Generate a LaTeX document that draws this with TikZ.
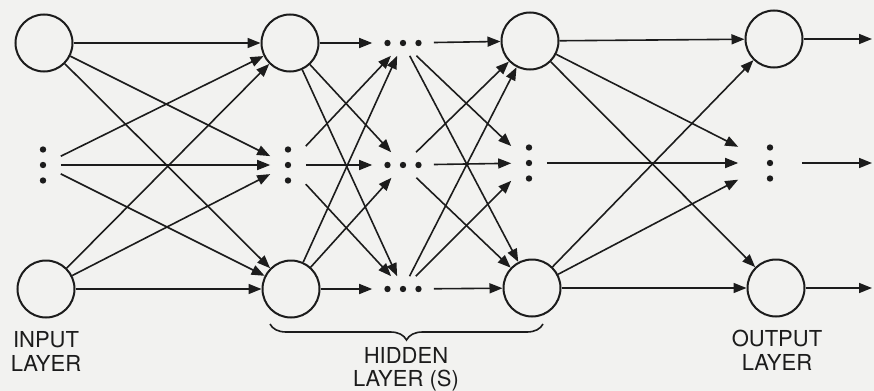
\documentclass[tikz,border=0pt]{standalone}
\usepackage{fontspec}
\setmainfont{TeX Gyre Heros}
\usetikzlibrary{positioning,arrows.meta,decorations.pathreplacing}
\definecolor{paper}{RGB}{242,242,240}
\definecolor{ink}{RGB}{28,28,28}

\begin{document}
\begin{tikzpicture}[
  x=0.5pt,y=-0.5pt,
  font=\fontsize{11}{12}\selectfont,
  line width=0.8pt,
  unit/.style={draw=ink,circle,line width=1pt,minimum size=28.5pt,inner sep=0pt},
  vdots/.style={rectangle,minimum width=17pt,minimum height=20pt,inner sep=0pt,
    path picture={\foreach \k in {-1,0,1}
      \fill[ink] ([yshift=\k*7.75pt]path picture bounding box.center) circle (1.6pt);}},
  hdots/.style={rectangle,minimum width=30pt,minimum height=12pt,inner sep=0pt,
    path picture={\foreach \k in {-1,0,1}
      \fill[ink] ([xshift=\k*7.75pt]path picture bounding box.center) circle (1.6pt);}},
  lbl/.style={align=center,inner sep=0pt,text=ink},
  hbrace/.style={draw=ink,decorate,decoration={brace,amplitude=8pt}},
  >={Triangle[length=6.5pt,width=5pt]}
]
\path[fill=paper,use as bounding box] (0,0) rectangle (874,391);

% ---------------- units ----------------
\node[unit] (i1) at (44,43) {};
\node[vdots] (i2) at (43,165) {};
\node[unit] (i3) at (46,289) {};

\node[unit] (a1) at (290,43) {};
\node[vdots] (a2) at (288,165) {};
\node[unit] (a3) at (291,289) {};

\node[hdots] (b1) at (403,43) {};
\node[hdots] (b2) at (403,165) {};
\node[hdots] (b3) at (403,289) {};

\node[unit] (c1) at (530,41) {};
\node[vdots] (c2) at (529,163) {};
\node[unit] (c3) at (532,288) {};

\node[unit] (o1) at (774,39) {};
\node[vdots,minimum width=31pt] (o2) at (770,163) {};
\node[unit] (o3) at (776,288) {};

\coordinate (x1) at (872,39);
\coordinate (x2) at (872,163);
\coordinate (x3) at (872,288);

% ---------------- connections ----------------
\draw[->,ink] (i1)--(a1); \draw[->,ink] (i1)--(a2); \draw[->,ink] (i1)--(a3);
\draw[->,ink] (i2)--(a1); \draw[->,ink] (i2)--(a2); \draw[->,ink] (i2)--(a3);
\draw[->,ink] (i3)--(a1); \draw[->,ink] (i3)--(a2); \draw[->,ink] (i3)--(a3);

\draw[->,ink] (a1)--(b1); \draw[->,ink] (a1)--(b2); \draw[->,ink] (a1)--(b3);
\draw[->,ink] (a2)--(b1); \draw[->,ink] (a2)--(b2); \draw[->,ink] (a2)--(b3);
\draw[->,ink] (a3)--(b1); \draw[->,ink] (a3)--(b2); \draw[->,ink] (a3)--(b3);

\draw[->,ink] (b1)--(c1); \draw[->,ink] (b1)--(c2); \draw[->,ink] (b1)--(c3);
\draw[->,ink] (b2)--(c1); \draw[->,ink] (b2)--(c2); \draw[->,ink] (b2)--(c3);
\draw[->,ink] (b3)--(c1); \draw[->,ink] (b3)--(c2); \draw[->,ink] (b3)--(c3);

\draw[->,ink] (c1)--(o1); \draw[->,ink] (c1)--(o2); \draw[->,ink] (c1)--(o3);
\draw[->,ink] (c2)--(o2);
\draw[->,ink] (c3)--(o1); \draw[->,ink] (c3)--(o2); \draw[->,ink] (c3)--(o3);

\draw[->,ink] (o1)--(x1); \draw[->,ink] (o2)--(x2); \draw[->,ink] (o3)--(x3);

% ---------------- labels ----------------
\node[lbl,anchor=north] (inl) at (46,331) {INPUT\\LAYER};
\node[lbl,anchor=north] (outl) at (777,329) {OUTPUT\\LAYER};
\draw[hbrace] (543,324) -- (270,324);
\node[lbl,anchor=north,font=\fontsize{11}{11.5}\selectfont] (hidl) at (406,347) {HIDDEN\\LAYER (S)};
\end{tikzpicture}
\end{document}
